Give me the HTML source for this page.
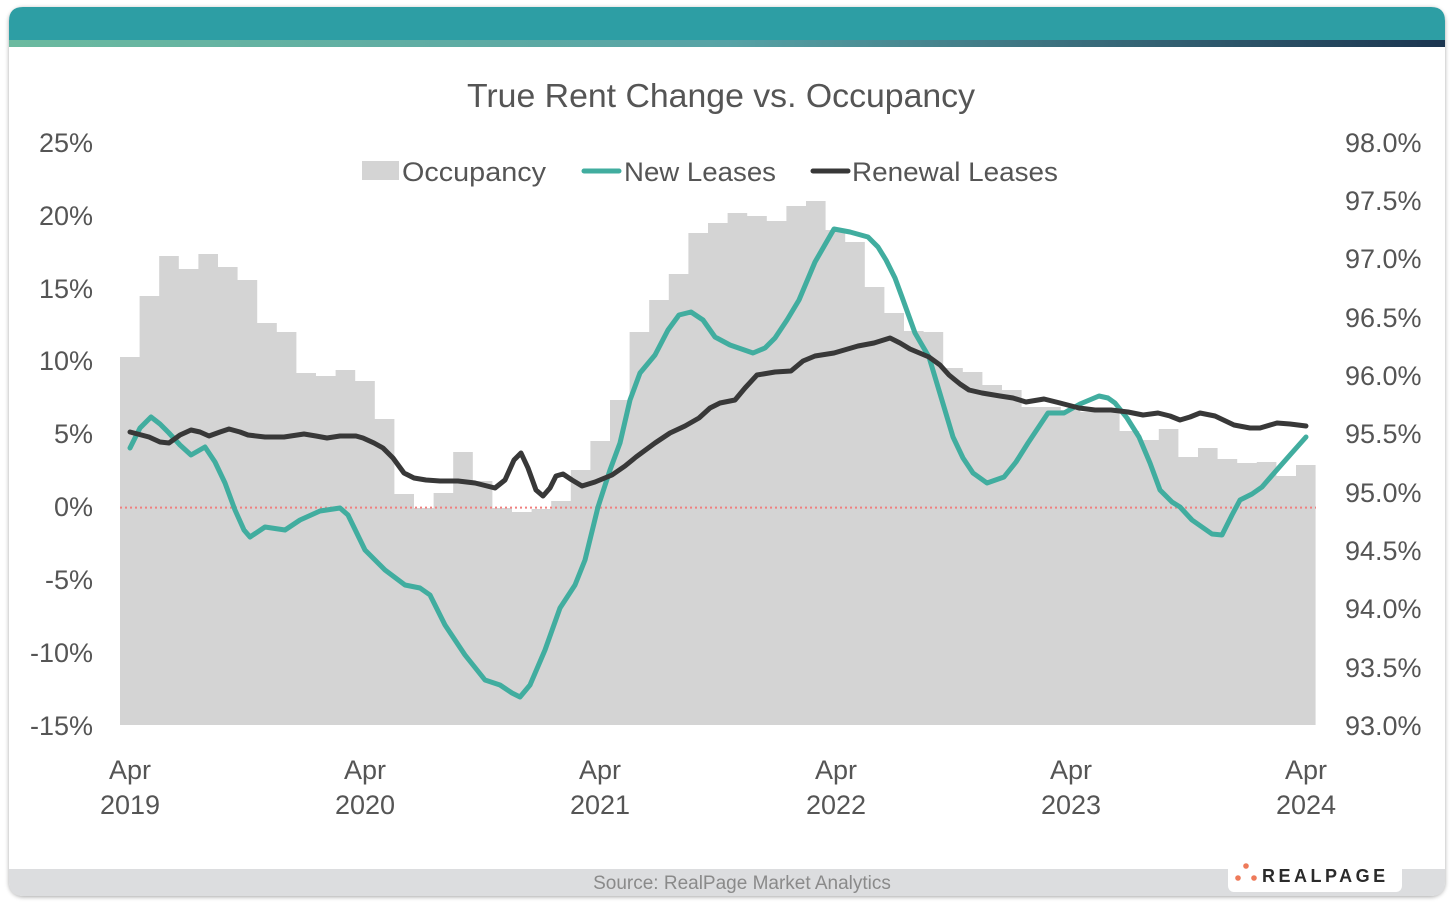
<!DOCTYPE html>
<html><head><meta charset="utf-8"><style>
html,body{margin:0;padding:0;background:#fff;}
body{width:1455px;height:903px;overflow:hidden;position:relative;font-family:"Liberation Sans",sans-serif;}
</style></head><body>
<svg width="1455" height="903" viewBox="0 0 1455 903" xmlns="http://www.w3.org/2000/svg" style="position:absolute;left:0;top:0">
<defs>
<linearGradient id="g" x1="0" x2="1" y1="0" y2="0">
<stop offset="0" stop-color="#6bbaa0"/><stop offset="0.5" stop-color="#57a3a6"/><stop offset="1" stop-color="#1b3550"/>
</linearGradient>
<filter id="sh" x="-2%" y="-2%" width="104%" height="104%"><feDropShadow dx="0" dy="1" stdDeviation="2" flood-color="#000" flood-opacity="0.35"/></filter>
</defs>
<rect x="9" y="7" width="1436" height="889" rx="14" fill="#fff" filter="url(#sh)"/>
<path d="M23 7 H1431 Q1445 7 1445 21 V40 H9 V21 Q9 7 23 7 Z" fill="#2d9ea4"/>
<rect x="9" y="40" width="1436" height="7" fill="url(#g)"/>
<path d="M9 869 H1445 V882 Q1445 896 1431 896 H23 Q9 896 9 882 Z" fill="#dcdddf"/>
<rect x="1228" y="862" width="174" height="30" rx="6" fill="#fff"/>
<circle cx="1246" cy="866" r="2.8" fill="#ee7a5a"/><circle cx="1238" cy="878" r="2.8" fill="#ee7a5a"/><circle cx="1254" cy="878" r="2.8" fill="#ee7a5a"/>
<text x="1262" y="882" font-size="18" font-weight="bold" letter-spacing="3.5" fill="#2b2b2b">REALPAGE</text>
<text x="742" y="889" font-size="19" fill="#8a8a8a" text-anchor="middle">Source: RealPage Market Analytics</text>

<text x="467" y="107" font-size="33" fill="#555" textLength="508" lengthAdjust="spacingAndGlyphs">True Rent Change vs. Occupancy</text>

<path d="M120 725 V357 H139.6 V296 H159.2 V256 H178.8 V269 H198.4 V254 H218 V267 H237.6 V280 H257.2 V323 H276.8 V332 H296.4 V373 H316 V376 H335.6 V370 H355.2 V381 H374.8 V419 H394.4 V494 H414 V508 H433.6 V493 H453.2 V452 H472.8 V481 H492.4 V508 H512 V512 H531.6 V509 H551.2 V501 H570.8 V470 H590.4 V441 H610 V400 H629.6 V332 H649.2 V300 H668.8 V274 H688.4 V233 H708 V223 H727.6 V213 H747.2 V216 H766.8 V221 H786.4 V206 H806 V201 H825.6 V230 H845.2 V242 H864.8 V287 H884.4 V313 H904 V331 H923.6 V332 H943.2 V368 H962.8 V372 H982.4 V385 H1002 V390 H1021.6 V407 H1041.2 V407 H1060.8 V410 H1080.4 V412 H1100 V412 H1119.6 V431 H1139.2 V440 H1158.8 V429 H1178.4 V457 H1198 V448 H1217.6 V459 H1237.2 V463 H1256.8 V462 H1276.4 V476 H1296 V465 H1315.6 V725 Z" fill="#d4d4d4"/>

<line x1="120" y1="507.6" x2="1316" y2="507.6" stroke="#f08080" stroke-width="2" stroke-dasharray="2,3"/>

<polyline fill="none" stroke="#41ad9f" stroke-width="5" stroke-linejoin="round" stroke-linecap="round" points="130,448 140,428 151,417 160,424 169,433 180,445 191,455 205,447 215,462 225,483 235,510 244,530 250,537 265,527 285,530 300,520 320,511 340,508 348,515 365,550 385,570 405,585 420,588 430,595 445,625 465,655 485,680 500,685 512,693 520,697 530,685 545,650 560,608 575,585 585,560 598,507 610,470 620,443 630,400 640,373 655,355 668,330 679,315 691,312 703,320 715,337 730,345 753,353 765,348 775,338 787,320 799,300 815,262 834,229 850,232 868,237 878,247 886,260 895,278 902,297 915,333 929,357 941,397 953,437 963,458 973,473 987,483 1004,477 1016,462 1028,443 1038,428 1048,413 1064,413 1080,404 1099,396 1108,398 1115,403 1127,418 1139,437 1150,463 1160,490 1172,502 1180,507 1192,520 1202,527 1212,534 1222,535 1232,515 1240,500 1252,494 1262,487 1275,472 1290,455 1306,437"/>

<polyline fill="none" stroke="#383838" stroke-width="5" stroke-linejoin="round" stroke-linecap="round" points="130,432 149,437 160,442 169,443 180,435 191,430 200,432 209,436 220,432 229,429 240,432 248,435 265,437 284,437 304,434 316,436 327,438 340,436 347,436 356,436 363,438 374,443 383,448 393,458 404,473 414,478 426,480 440,481 458,481 475,483 495,488 505,480 514,460 521,453 528,468 536,490 543,496 550,488 556,476 563,474 572,480 582,486 595,482 612,475 625,466 636,457 655,443 670,433 685,426 699,418 710,408 720,403 735,400 745,388 757,375 775,372 791,371 803,361 815,356 834,353 858,346 874,343 890,338 900,343 910,349 929,357 940,365 949,375 960,384 969,390 982,393 1000,396 1013,398 1026,402 1044,399 1060,403 1079,408 1095,410 1111,410 1128,412 1143,415 1158,413 1170,416 1180,420 1190,417 1200,413 1215,416 1234,425 1250,428 1260,428 1277,423 1290,424 1306,426"/>

<g font-size="27" fill="#555">
<rect x="362" y="161" width="37" height="19" fill="#d4d4d4"/>
<text x="402" y="181" textLength="144" lengthAdjust="spacingAndGlyphs">Occupancy</text>
<line x1="584" y1="171" x2="619" y2="171" stroke="#41ad9f" stroke-width="5" stroke-linecap="round"/>
<text x="624" y="181" textLength="152" lengthAdjust="spacingAndGlyphs">New Leases</text>
<line x1="813" y1="171" x2="848" y2="171" stroke="#383838" stroke-width="5" stroke-linecap="round"/>
<text x="852" y="181" textLength="206" lengthAdjust="spacingAndGlyphs">Renewal Leases</text>
</g>

<g font-size="27" fill="#555" text-anchor="end">
<text x="93" y="152">25%</text><text x="93" y="225">20%</text><text x="93" y="298">15%</text><text x="93" y="370">10%</text><text x="93" y="443">5%</text><text x="93" y="516">0%</text><text x="93" y="589">-5%</text><text x="93" y="662">-10%</text><text x="93" y="735">-15%</text>
</g>
<g font-size="27" fill="#555" text-anchor="start">
<text x="1345" y="152">98.0%</text><text x="1345" y="210">97.5%</text><text x="1345" y="268">97.0%</text><text x="1345" y="327">96.5%</text><text x="1345" y="385">96.0%</text><text x="1345" y="443">95.5%</text><text x="1345" y="502">95.0%</text><text x="1345" y="560">94.5%</text><text x="1345" y="618">94.0%</text><text x="1345" y="677">93.5%</text><text x="1345" y="735">93.0%</text>
</g>
<g font-size="27" fill="#555" text-anchor="middle">
<text x="130" y="779">Apr</text><text x="130" y="814">2019</text>
<text x="365" y="779">Apr</text><text x="365" y="814">2020</text>
<text x="600" y="779">Apr</text><text x="600" y="814">2021</text>
<text x="836" y="779">Apr</text><text x="836" y="814">2022</text>
<text x="1071" y="779">Apr</text><text x="1071" y="814">2023</text>
<text x="1306" y="779">Apr</text><text x="1306" y="814">2024</text>
</g>
</svg>
</body></html>
